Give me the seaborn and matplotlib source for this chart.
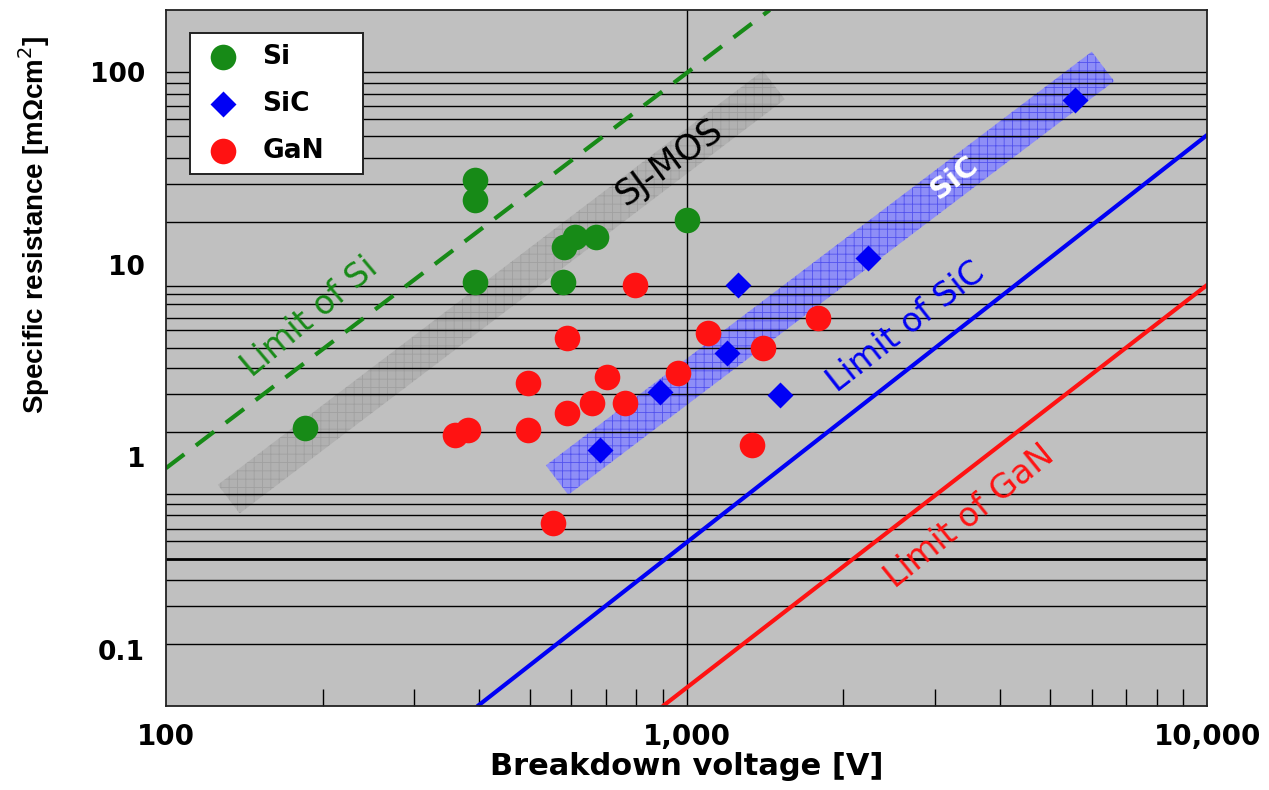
import numpy as np
import matplotlib
matplotlib.use("Agg")
import matplotlib.pyplot as plt
from matplotlib.patches import Polygon
from matplotlib.ticker import FixedLocator, FixedFormatter, NullFormatter
import pandas as pd
import seaborn as sns

# values
si_voltage = [185, 393, 393, 393, 579, 582, 611, 670, 1002]
si_resistance = [1.42, 27.5, 21.7, 8.13, 8.13, 12.4, 13.9, 13.9, 17.1]

sic_voltage = [682, 889, 1197, 1256, 1514, 2233, 5570]
sic_resistance = [1.09, 2.18, 3.48, 7.85, 2.11, 10.8, 71.6]

gan_voltage = [359, 380, 496, 496, 555, 589, 589, 658, 703, 762, 796, 963,
               1099, 1336, 1403, 1791]
gan_resistance = [1.31, 1.39, 2.43, 1.39, 0.457, 4.17, 1.70, 1.92, 2.61, 1.92,
                  7.85, 2.74, 4.42, 1.16, 3.70, 5.29]

# theoretical limit lines (end points)
limit_si_v = [100, 1445]
limit_si_r = [0.88, 210]
limit_sic_v = [397, 10000]
limit_sic_r = [0.0513, 47.1]
limit_gan_v = [901, 10000]
limit_gan_r = [0.0513, 7.85]

# trend bands (centre line end points)
sjmos_band_v = [132, 1472]
sjmos_band_r = [0.608, 85.7]
sic_band_v = [564, 6310]
sic_band_r = [0.763, 107]

# horizontal grid levels as drawn in the reference
grid_levels = [100, 87.4, 76.9, 66.6, 56.8, 46.7, 35.9, 26.4, 16.7, 7.75, 7.05,
               6.25, 5.27, 4.58, 3.68, 2.90, 2.13, 1.36, 0.645, 0.573, 0.504,
               0.425, 0.370, 0.231, 0.169, 0.107]
thick_grid_level = 0.297

x_ticks = [100, 1000, 10000]
x_ticklabels = ["100", "1,000", "10,000"]
y_ticks = [0.1, 1, 10, 100]
y_ticklabels = ["0.1", "1", "10", "100"]

GREEN = "#178a17"
BLUE = "#0000f5"
RED = "#ff1212"

sns.set_style("ticks")
plt.rcParams["font.family"] = ["DejaVu Sans"]
plt.rcParams["hatch.linewidth"] = 0.6
plt.rcParams["text.color"] = "black"
plt.rcParams["axes.labelcolor"] = "black"
plt.rcParams["xtick.color"] = "black"
plt.rcParams["ytick.color"] = "black"

df = pd.concat([
    pd.DataFrame({"V": si_voltage, "R": si_resistance, "mat": "Si"}),
    pd.DataFrame({"V": sic_voltage, "R": sic_resistance, "mat": "SiC"}),
    pd.DataFrame({"V": gan_voltage, "R": gan_resistance, "mat": "GaN"}),
], ignore_index=True)

fig = plt.figure(figsize=(12.69, 7.90), dpi=100)
ax = fig.add_axes([0.1308, 0.1063, 0.8204, 0.881])
ax.set_facecolor("#c0c0c0")
ax.set_xscale("log")
ax.set_yscale("log")
ax.set_xlim(100, 10000)
ax.set_ylim(0.0513, 209.8)


def add_band(ax, v, r, width_px, **kw):
    # thick straight band with square ends, built in screen space
    p = ax.transData.transform(np.column_stack([v, r]))
    d = p[1] - p[0]
    n = np.array([-d[1], d[0]]) / np.hypot(*d) * width_px / 2
    corners = np.array([p[0] + n, p[1] + n, p[1] - n, p[0] - n])
    poly = Polygon(ax.transData.inverted().transform(corners), closed=True, **kw)
    ax.add_patch(poly)


add_band(ax, sjmos_band_v, sjmos_band_r, 36, facecolor="#b1b1b1",
         edgecolor="#a0a0a0", hatch="++", linewidth=0, zorder=1)
add_band(ax, sic_band_v, sic_band_r, 37, facecolor="#8e8ef7",
         edgecolor="#5252ee", hatch="++", linewidth=0, zorder=1)

# grid
for lvl in grid_levels:
    ax.axhline(lvl, color="black", lw=1.0, zorder=1.5)
ax.axhline(thick_grid_level, color="black", lw=2.0, zorder=1.5)
ax.axvline(1000, color="black", lw=1.0, zorder=1.5)

# limit lines
ax.plot(limit_si_v, limit_si_r, color=GREEN, lw=3, dashes=(5.5, 3.5), zorder=2)
ax.plot(limit_sic_v, limit_sic_r, color=BLUE, lw=3, zorder=2)
ax.plot(limit_gan_v, limit_gan_r, color=RED, lw=3, zorder=2)

# device data
styles = {"Si": ("o", GREEN, 340), "SiC": ("D", BLUE, 175), "GaN": ("o", RED, 340)}
for mat, (mk, col, size) in styles.items():
    sns.scatterplot(data=df[df["mat"] == mat], x="V", y="R", marker=mk,
                    color=col, s=size, linewidth=0, label=mat, ax=ax, zorder=3)

# labels on the chart
label_kw = dict(ha="center", va="center", rotation_mode="anchor", zorder=4)
ax.text(189, 5.35, "Limit of Si", color=GREEN, fontsize=24, rotation=40, **label_kw)
ax.text(929, 34.1, "SJ-MOS", color="black", fontsize=25, rotation=36, **label_kw)
ax.text(3281, 28.5, "SiC", color="white", fontsize=21, fontweight="bold",
        rotation=38, **label_kw)
ax.text(2642, 4.75, "Limit of SiC", color=BLUE, fontsize=24, rotation=38, **label_kw)
ax.text(3491, 0.497, "Limit of GaN", color=RED, fontsize=24, rotation=39, **label_kw)

# axes / ticks
ax.xaxis.set_major_locator(FixedLocator(x_ticks))
ax.xaxis.set_major_formatter(FixedFormatter(x_ticklabels))
ax.xaxis.set_minor_locator(FixedLocator(
    [v * m for m in (100, 1000) for v in range(2, 10)]))
ax.xaxis.set_minor_formatter(NullFormatter())
ax.yaxis.set_major_locator(FixedLocator(y_ticks))
ax.yaxis.set_major_formatter(FixedFormatter(y_ticklabels))
ax.yaxis.set_minor_locator(FixedLocator([]))
ax.tick_params(axis="x", which="major", length=0, pad=12, labelsize=20)
ax.tick_params(axis="x", which="minor", direction="in", length=12, width=1.0,
               color="black")
ax.tick_params(axis="y", which="major", length=0, pad=15, labelsize=19)
for lab in ax.get_xticklabels() + ax.get_yticklabels():
    lab.set_fontweight("bold")

for sp in ax.spines.values():
    sp.set_color("#222222")
    sp.set_linewidth(1.3)
    sp.set_zorder(5)

ax.set_xlabel("Breakdown voltage [V]", fontsize=22, fontweight="bold")
ax.xaxis.set_label_coords(0.5, -0.066)
ax.xaxis.label.set_va("top")
ax.set_ylabel("Specific resistance [m\u03a9cm$^2$]", fontsize=20,
              fontweight="bold", family=["Liberation Sans", "DejaVu Sans"])
ax.yaxis.set_label_coords(-0.1095, 0.691)

leg = ax.legend(loc="upper left", bbox_to_anchor=(0.023, 0.767, 0.1662, 0.2),
                mode="expand", borderaxespad=0, fancybox=False, framealpha=1,
                edgecolor="#222222", facecolor="white",
                prop={"weight": "bold", "size": 19},
                handlelength=1.7, handletextpad=0.65, labelspacing=0.8,
                borderpad=0.4)
leg.get_frame().set_linewidth(1.4)
leg.set_zorder(6)

fig.savefig("out.png", dpi=100)
